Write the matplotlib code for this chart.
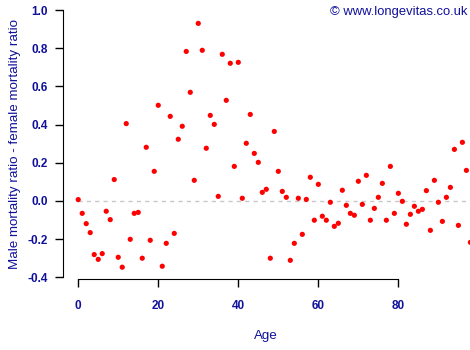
import matplotlib
matplotlib.use("Agg")
import matplotlib.pyplot as plt
import numpy as np

# ages 0..98, male/female mortality ratio difference
ages = np.arange(0, 99)
ratio_diff = [
    0.007, -0.065, -0.119, -0.166, -0.281, -0.306, -0.276, -0.054, -0.098, 0.112,
    -0.295, -0.347, 0.405, -0.201, -0.065, -0.060, -0.300, 0.281, -0.206, 0.155,
    0.501, -0.342, -0.222, 0.443, -0.170, 0.323, 0.391, 0.783, 0.569, 0.108,
    0.930, 0.789, 0.276, 0.448, 0.401, 0.024, 0.768, 0.527, 0.721, 0.181,
    0.726, 0.014, 0.302, 0.453, 0.249, 0.202, 0.045, 0.061, -0.300, 0.364,
    0.155, 0.050, 0.019, -0.311, -0.222, 0.014, -0.175, 0.008, 0.124, -0.101,
    0.087, -0.080, -0.101, -0.007, -0.133, -0.117, 0.056, -0.023, -0.065, -0.075,
    0.103, -0.018, 0.134, -0.101, -0.039, 0.019, 0.092, -0.101, 0.181, -0.065,
    0.040, -0.002, -0.122, -0.070, -0.028, -0.054, -0.044, 0.054, -0.154, 0.108,
    -0.007, -0.107, 0.019, 0.071, 0.270, -0.128, 0.307, 0.160, -0.217,
]

x_ticks = [0, 20, 40, 60, 80]
y_ticks = [-0.4, -0.2, 0.0, 0.2, 0.4, 0.6, 0.8, 1.0]

text_col = "#10109a"
plt.rcParams["font.family"] = ["Liberation Sans", "DejaVu Sans"]

fig = plt.figure(figsize=(4.7, 3.5), dpi=100)
ax = fig.add_axes([0.1332, 0.2077, 0.8668, 0.7637])

ax.hlines(0, ages.min(), ages.max() + 1, colors="#c8c8c8", linestyles=(0, (3, 3)), linewidth=1)
ax.scatter(ages, ratio_diff, s=14, color="red", edgecolors="none", zorder=3)

ax.set_xlim(-3.9, 97.9)
ax.set_ylim(-0.4, 1.0)

for s in ("top", "right"):
    ax.spines[s].set_visible(False)
ax.spines["left"].set_bounds(-0.4, 1.0)
ax.spines["bottom"].set_bounds(0, 80)
ax.spines["bottom"].set_position(("outward", 1))

ax.set_xticks(x_ticks)
ax.set_yticks(y_ticks)
ax.set_yticklabels([f"{v:.1f}" for v in y_ticks])
ax.tick_params(axis="both", direction="out", length=5.5, width=1, colors="black",
               labelcolor=text_col, labelsize=8.5)
ax.tick_params(axis="x", pad=10)
ax.tick_params(axis="y", pad=5)
for lab in ax.get_xticklabels() + ax.get_yticklabels():
    lab.set_fontweight("bold")

ax.set_xlabel("Age", color=text_col, fontsize=9.6, labelpad=13)
ax.set_ylabel("Male mortality ratio - female mortality ratio", color=text_col, fontsize=9.6, labelpad=5)

fig.text(0.994, 0.966, "\u00a9 www.longevitas.co.uk", color=text_col, fontsize=9.4,
         ha="right", va="center")

fig.savefig("out.png", dpi=100)
